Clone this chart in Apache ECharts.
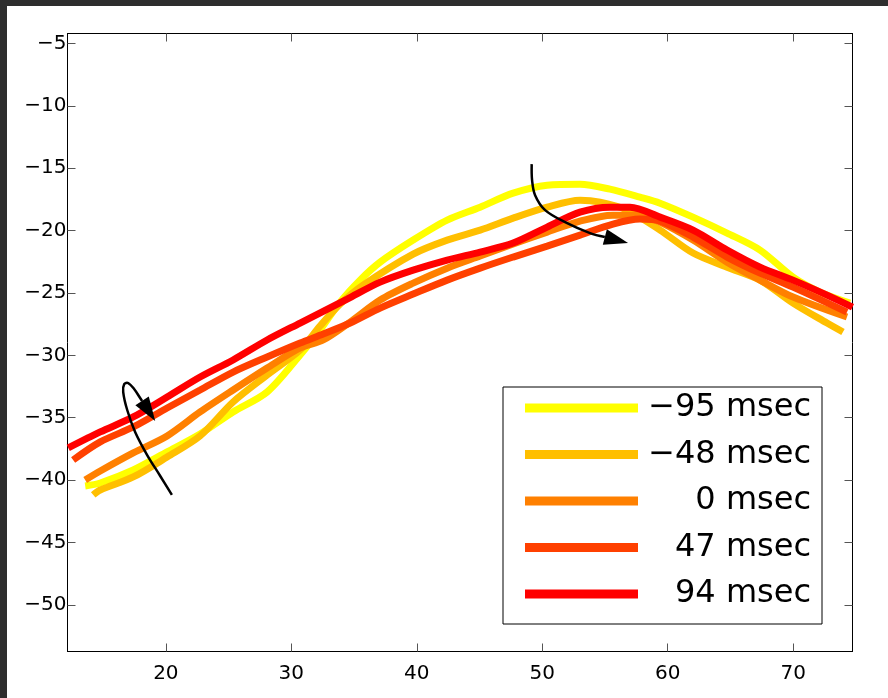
<!DOCTYPE html>
<html>
<head>
<meta charset="utf-8">
<script src="https://cdn.jsdelivr.net/npm/echarts@6/dist/echarts.min.js"></script>
<style>
  html, body { margin: 0; padding: 0; background: #2e2e2e; width: 888px; height: 698px; overflow: hidden; }
  #chart { position: absolute; left: 7px; top: 6px; width: 881px; height: 692px; background: #fff; }
</style>
</head>
<body>
<div id="chart"></div>
<script>
// ---- data ----
const seriesNames = ['\u221295 msec', '\u221248 msec', '0 msec', '47 msec', '94 msec'];
const seriesColors = ['#FFFF00', '#FFBF00', '#FF8000', '#FF4000', '#FF0000'];

const sM95 = [[13.57,-40.47],[14.77,-40.23],[17.40,-39.19],[20.10,-37.74],[22.73,-36.30],[25.36,-34.54],[28.07,-32.94],[30.70,-29.97],[32.29,-27.97],[33.89,-25.73],[35.48,-23.97],[37.08,-22.53],[39.71,-20.76],[42.42,-19.16],[45.05,-18.12],[47.68,-17.00],[50.39,-16.36],[53.01,-16.28],[55.40,-16.68],[57.79,-17.32],[59.39,-17.80],[62.02,-18.92],[64.73,-20.20],[67.36,-21.56],[69.99,-23.73],[72.14,-24.93],[74.53,-25.81]];
const sM48 = [[14.21,-41.19],[14.77,-40.79],[17.40,-39.75],[20.10,-38.15],[22.73,-36.46],[25.36,-33.74],[28.07,-31.58],[30.70,-29.57],[32.29,-27.65],[33.89,-25.89],[35.72,-24.37],[39.71,-21.88],[42.42,-20.76],[45.05,-19.96],[47.68,-19.00],[50.39,-18.12],[53.01,-17.56],[54.61,-17.72],[56.76,-18.36],[59.39,-19.96],[62.02,-21.80],[64.73,-22.93],[67.36,-23.97],[69.99,-25.81],[72.70,-27.41],[73.97,-28.13]];
const s0 = [[13.57,-39.99],[14.77,-39.27],[17.40,-37.82],[20.10,-36.46],[22.73,-34.54],[25.36,-32.78],[28.07,-31.02],[30.70,-29.41],[32.54,-28.77],[34.69,-27.33],[37.08,-25.57],[39.71,-24.21],[42.42,-23.01],[45.05,-22.04],[47.68,-21.08],[50.39,-20.12],[53.01,-19.24],[55.64,-18.76],[57.79,-18.76],[59.39,-19.32],[62.02,-20.76],[64.73,-22.53],[67.36,-23.97],[69.99,-25.33],[74.29,-26.93]];
const s47 = [[12.61,-38.39],[14.77,-36.94],[17.40,-35.74],[20.10,-34.22],[22.73,-32.78],[25.36,-31.34],[28.07,-30.13],[30.70,-29.01],[32.54,-28.29],[34.69,-27.41],[37.08,-26.21],[39.71,-25.09],[42.42,-23.97],[45.05,-23.01],[47.68,-22.12],[50.39,-21.24],[53.01,-20.36],[55.64,-19.48],[57.79,-19.08],[59.39,-19.24],[62.02,-20.52],[64.73,-22.12],[67.36,-23.41],[69.99,-24.53],[74.29,-26.53]];
const s94 = [[12.22,-37.42],[14.77,-36.14],[17.40,-34.94],[20.10,-33.34],[22.73,-31.74],[25.36,-30.37],[28.07,-28.77],[30.70,-27.41],[34.45,-25.49],[37.08,-24.13],[39.71,-23.17],[42.42,-22.36],[45.05,-21.72],[47.68,-21.00],[50.39,-19.72],[53.01,-18.52],[55.40,-18.12],[57.00,-18.12],[59.39,-18.92],[62.02,-19.96],[64.73,-21.56],[67.36,-22.93],[69.99,-23.97],[72.70,-25.17],[74.73,-26.13]];
const seriesData = [sM95, sM48, s0, s47, s94];

const xTicks = [20, 30, 40, 50, 60, 70];
const yTicks = [-50, -45, -40, -35, -30, -25, -20, -15, -10, -5];
const xRange = [12.16, 74.73];
const yRange = [-53.74, -4.2];

// annotation arrows (data coordinates)
const arrowPeak = [[49.16,-14.67],[49.19,-15.95],[49.43,-17.16],[50.23,-18.36],[51.82,-19.32],[53.81,-20.2],[56.84,-21.0]];
const arrowLoop = [[20.48,-41.19],[19.55,-39.67],[18.51,-37.99],[17.55,-36.14],[16.92,-34.38],[16.60,-32.94],[16.68,-32.3],[17.0,-32.22],[17.47,-32.7],[17.95,-33.42],[19.15,-35.27]];

// ---- chart ----
const FONT = 'DejaVu Sans';
const minus = v => String(v).replace('-', '\u2212');

function arrowShape(arr, api) {
  const pts = arr.map(p => api.coord(p));
  const tip = pts[pts.length - 1], prev = pts[pts.length - 2];
  let dx = tip[0] - prev[0], dy = tip[1] - prev[1];
  const L = Math.hypot(dx, dy); dx /= L; dy /= L;
  const hl = 24, hw = 8;
  const base = [tip[0] - dx * hl, tip[1] - dy * hl];
  const linePts = pts.slice(0, -1).concat([base]);
  return {
    type: 'group',
    children: [
      { type: 'polyline', shape: { points: linePts, smooth: 0.35 }, style: { stroke: '#000', lineWidth: 2.5, fill: null } },
      { type: 'polygon', shape: { points: [tip, [base[0] - dy * hw, base[1] + dx * hw], [base[0] + dy * hw, base[1] - dx * hw]] }, style: { fill: '#000' } }
    ]
  };
}

function xAxisDef(pos, showLabel) {
  return {
    type: 'value', position: pos, min: xRange[0], max: xRange[1],
    axisLine: { show: true, onZero: false, lineStyle: { color: '#000', width: 1 } },
    axisTick: { show: true, inside: true, length: 8, customValues: xTicks, lineStyle: { color: '#555', width: 1 } },
    axisLabel: { show: showLabel, customValues: xTicks, fontSize: 20, fontFamily: FONT, color: '#000', margin: 12 },
    splitLine: { show: false }
  };
}
function yAxisDef(pos, showLabel) {
  return {
    type: 'value', position: pos, min: yRange[0], max: yRange[1],
    axisLine: { show: true, onZero: false, lineStyle: { color: '#000', width: 1 } },
    axisTick: { show: true, inside: true, length: 8, customValues: yTicks, lineStyle: { color: '#555', width: 1 } },
    axisLabel: { show: showLabel, customValues: yTicks, fontSize: 20, fontFamily: FONT, color: '#000', margin: 1, formatter: minus },
    splitLine: { show: false }
  };
}

const chart = echarts.init(document.getElementById('chart'), null, { renderer: 'canvas' });

const lineSeries = seriesNames.map((name, i) => ({
  name: name,
  type: 'line',
  data: seriesData[i],
  color: seriesColors[i],
  symbol: 'none',
  smooth: 0.3,
  lineStyle: { width: 7, color: seriesColors[i] },
  itemStyle: { color: seriesColors[i] },
  animation: false,
  z: 2
}));

const arrowSeries = [arrowPeak, arrowLoop].map((arr, i) => ({
  name: 'arrow' + i,
  type: 'custom',
  xAxisIndex: 0, yAxisIndex: 0,
  data: [arr[0]],
  silent: true,
  z: 10,
  animation: false,
  renderItem: (params, api) => arrowShape(arr, api)
}));

chart.setOption({
  animation: false,
  backgroundColor: '#fff',
  grid: { left: 60.5, top: 27.5, right: 35.5, bottom: 46.5, containLabel: false },
  xAxis: [xAxisDef('bottom', true), xAxisDef('top', false)],
  yAxis: [yAxisDef('left', true), yAxisDef('right', false)],
  legend: {
    data: seriesNames,
    orient: 'vertical',
    left: 496, top: 381,
    itemWidth: 113, itemHeight: 9, itemGap: 14.5,
    icon: 'rect',
    padding: [5, 11, 14, 22],
    borderColor: '#000', borderWidth: 1, backgroundColor: '#fff',
    selectedMode: false,
    formatter: n => '{t|' + n + '}',
    textStyle: {
      rich: { t: { width: 168, align: 'right', fontSize: 32, lineHeight: 36, fontFamily: FONT, color: '#000' } }
    }
  },
  series: lineSeries.concat(arrowSeries)
});
</script>
</body>
</html>
